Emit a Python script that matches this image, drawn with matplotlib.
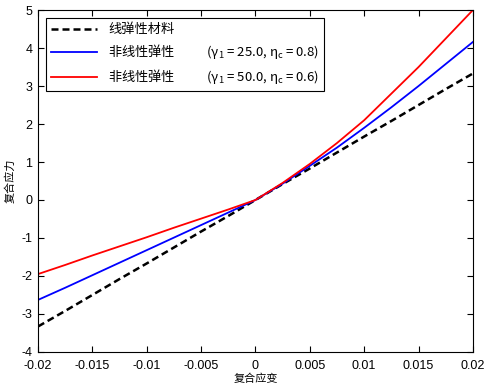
import numpy as np
import matplotlib
matplotlib.use('Agg')
import matplotlib.pyplot as plt

plt.rcParams['font.family'] = ['Liberation Sans', 'Noto Sans CJK SC', 'DejaVu Sans']
plt.rcParams['axes.unicode_minus'] = False
# math parts of the legend need a font that also has the CJK glyphs
plt.rcParams['mathtext.fontset'] = 'custom'
plt.rcParams['mathtext.rm'] = 'Noto Sans CJK SC'
plt.rcParams['mathtext.it'] = 'Noto Sans CJK SC'
plt.rcParams['mathtext.bf'] = 'Noto Sans CJK SC'

# strain values (x) and stress values
strain = [-0.02, -0.0175, -0.015, -0.0125, -0.01, -0.0075, -0.005, -0.0025, 0.0,
          0.0025, 0.005, 0.0075, 0.01, 0.0125, 0.015, 0.0175, 0.02]
linear = [-3.33, -2.92, -2.5, -2.08, -1.67, -1.25, -0.83, -0.42, 0.0,
          0.42, 0.83, 1.25, 1.67, 2.08, 2.5, 2.92, 3.33]
nonlin_25 = [-2.63, -2.31, -1.98, -1.65, -1.32, -0.99, -0.66, -0.33, 0.0,
             0.43, 0.9, 1.38, 1.9, 2.44, 3.0, 3.58, 4.16]
nonlin_50 = [-1.95, -1.71, -1.46, -1.22, -0.98, -0.73, -0.49, -0.25, 0.0,
             0.45, 0.95, 1.5, 2.1, 2.8, 3.5, 4.25, 5.0]

labels = ['线弹性材料',
          '非线性弹性           ($\\gamma_1$ = 25.0, $\\eta_c$ = 0.8)',
          '非线性弹性           ($\\gamma_1$ = 50.0, $\\eta_c$ = 0.6)']

xticks = [-0.02, -0.015, -0.01, -0.005, 0, 0.005, 0.01, 0.015, 0.02]
xticklabels = ['-0.02', '-0.015', '-0.01', '-0.005', '0', '0.005', '0.01', '0.015', '0.02']
yticks = list(range(-4, 6))

fig = plt.figure(figsize=(4.88, 3.88), dpi=100)
ax = fig.add_axes([0.078, 0.093, 0.891, 0.881])

ax.plot(strain, linear, color='black', linestyle='--', dashes=(2.8, 1.6),
        linewidth=1.8, label=labels[0])
ax.plot(strain, nonlin_25, color='blue', linewidth=1.3, label=labels[1])
ax.plot(strain, nonlin_50, color='red', linewidth=1.3, label=labels[2])

ax.set_xlim(-0.02, 0.02)
ax.set_ylim(-4, 5)
ax.set_xticks(xticks)
ax.set_xticklabels(xticklabels)
ax.set_yticks(yticks)
ax.tick_params(direction='in', top=True, right=True, labelsize=9, length=4)
ax.tick_params(axis='x', pad=6)
ax.tick_params(axis='y', pad=4)
ax.set_xlabel('复合应变', fontsize=8, family=['Noto Sans CJK SC'], labelpad=1)
ax.set_ylabel('复合应力', fontsize=8, family=['Noto Sans CJK SC'], labelpad=4)

leg = ax.legend(loc='upper left', fancybox=False, edgecolor='black',
                framealpha=1, handlelength=3.5, borderaxespad=0.6,
                labelspacing=0.45, borderpad=0.4,
                prop={'family': ['Noto Sans CJK SC'], 'size': 9.5})
leg.get_frame().set_linewidth(0.8)

fig.savefig('out.png', dpi=100)
